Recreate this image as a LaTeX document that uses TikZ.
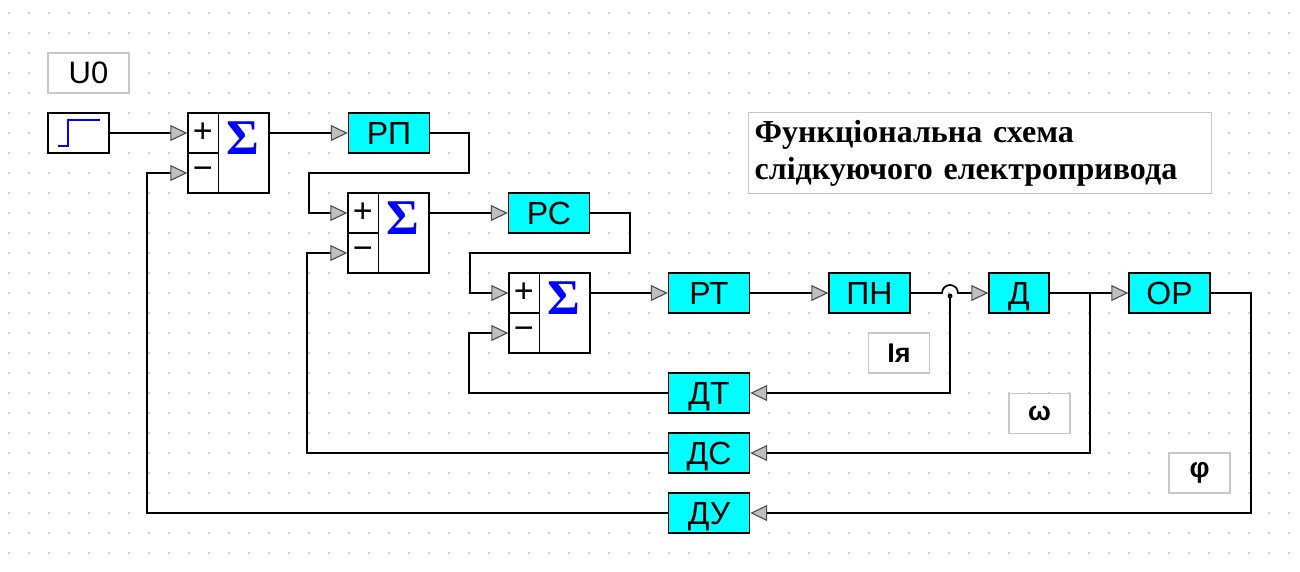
\documentclass[tikz,border=0pt]{standalone}
\usepackage{fontspec}
\setmainfont{Liberation Sans}
\newfontfamily\titlefont{Liberation Serif}
\usetikzlibrary{arrows.meta}

\definecolor{blkcyan}{RGB}{0,255,255}
\tikzset{
  blk/.style={draw, fill=blkcyan, line width=1.4pt, minimum width=81pt, minimum height=40pt,
    inner sep=0pt, text height=22.5pt, text depth=0pt, font=\fontsize{32}{32}\selectfont},
  sumblk/.style={draw, fill=white, line width=1.4pt, minimum width=81pt, minimum height=80pt, inner sep=0pt},
  lbl/.style={draw=black!22, fill=white, line width=1.3pt, minimum width=61pt, minimum height=40pt, inner sep=0pt},
  sig/.style={line width=1.7pt, -{Triangle[length=17pt, width=16pt, line width=1.1pt, color=black!70, fill=black!25]}}
}

\begin{document}
\begin{tikzpicture}[x=1pt, y=-1pt]
  \useasboundingbox (0,0) rectangle (1300,571);

  % Grid
  \foreach \x in {9,29,...,1289}
    \foreach \y in {13,33,...,553}
      \fill[black!40] (\x,\y) circle (0.9pt);

  % Input step
  \node[lbl, minimum width=81pt, font=\fontsize{31}{31}\selectfont] (u0) at (88.5,73) {U0};
  \node[draw, fill=white, line width=1.4pt, minimum width=61pt, minimum height=40pt] (src) at (78.5,133) {};
  \draw[blue, line width=1.6pt] (58,146) -- (68,146) -- (68,120) -- (100,120);

  % Summators
  \node[sumblk] (s1) at (228.5,153) {};
  \node[sumblk] (s2) at (388.5,233) {};
  \node[sumblk] (s3) at (549.5,313) {};
  \foreach \s in {s1,s2,s3} {
    \draw[line width=1.4pt] ([xshift=31pt]\s.north west) -- ([xshift=31pt]\s.south west);
    \draw[line width=1.4pt] (\s.west) -- ([xshift=31pt]\s.west);
    \node[font=\fontsize{34}{34}\selectfont] at ([xshift=15.5pt,yshift=20pt]\s.west) {+};
    \node[font=\fontsize{34}{34}\selectfont] at ([xshift=15.5pt,yshift=-20pt]\s.west) {−};
    \node[blue, anchor=base, font=\titlefont\bfseries\fontsize{50}{50}\selectfont] at ([xshift=56pt,yshift=-1pt]\s.west) {Σ};
    \coordinate (\s-p) at ([yshift=20pt]\s.west);
    \coordinate (\s-m) at ([yshift=-20pt]\s.west);
    \coordinate (\s-o) at ([yshift=20pt]\s.east);
  }

  % Forward path
  \node[blk] (rp) at (389,133) {РП};
  \node[blk] (rc) at (549,213) {РС};
  \node[blk] (rt) at (709,293) {РТ};
  \node[blk] (pn) at (869.5,293) {ПН};
  \node[blk, minimum width=60pt] (dv) at (1019,293) {Д};
  \node[blk] (op) at (1169.5,293) {ОР};

  % Sensors
  \node[blk] (dt) at (709,393) {ДТ};
  \node[blk] (dc) at (709,453) {ДС};
  \node[blk] (du) at (709,513) {ДУ};

  % Signal labels
  \node[lbl, font=\bfseries\fontsize{27}{27}\selectfont] (ia) at (899,353) {Ія};
  \node[lbl, font=\bfseries\fontsize{27}{27}\selectfont] (om) at (1039.5,413.5) {ω};
  \node[lbl, font=\bfseries\fontsize{28}{28}\selectfont] (ph) at (1199.5,473) {φ};

  % Title
  \node[lbl, anchor=north west, minimum width=463pt, minimum height=81pt, text width=451pt,
    align=left, inner sep=6pt, font=\titlefont\bfseries\fontsize{32}{37}\selectfont]
    (title) at (748,112) {Функціональна схема\\слідкуючого електропривода};

  % Connections
  \coordinate (jn) at (950,296);
  \coordinate (br) at (1090,293);
  \draw[sig] (src.east) -- (s1-p);
  \draw[sig] (s1-o) -- (rp.west);
  \draw[sig] (rp.east) -- ++(39,0) |- ++(-160,40) |- (s2-p);
  \draw[sig] (s2-o) -- (rc.west);
  \draw[sig] (rc.east) -- ++(40,0) |- ++(-160,40) |- (s3-p);
  \draw[sig] (s3-o) -- (rt.west);
  \draw[sig] (rt) -- (pn);
  \draw[sig] (pn.east) -- (942,293) arc (180:360:8) -- (dv.west);
  \draw[sig] (dv) -- (op);

  % Feedback
  \draw[sig] (jn) |- (dt.east);
  \fill (jn) circle (2.5pt);
  \draw[sig] (dt.west) -| ([xshift=-39pt]s3-m) -- (s3-m);
  \draw[sig] (br) |- (dc.east);
  \draw[sig] (dc.west) -| ([xshift=-40pt]s2-m) -- (s2-m);
  \draw[sig] (op.east) -- ++(40,0) |- (du.east);
  \draw[sig] (du.west) -| ([xshift=-40pt]s1-m) -- (s1-m);
\end{tikzpicture}
\end{document}
